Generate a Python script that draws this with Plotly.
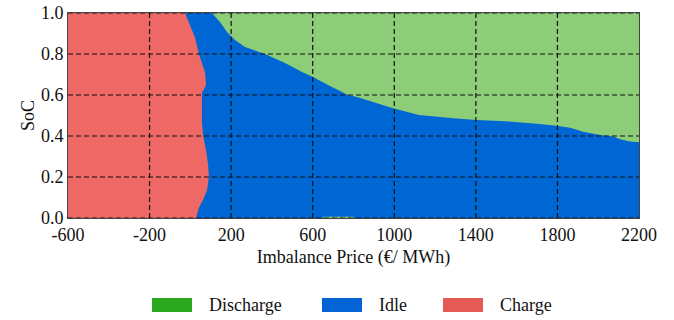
import plotly.graph_objects as go

# ---- data ----
x_range = [-600, 2200]
y_range = [0.0, 1.0]
x_ticks = [-600, -200, 200, 600, 1000, 1400, 1800, 2200]
y_ticks = [0.0, 0.2, 0.4, 0.6, 0.8, 1.0]

# Charge / Idle boundary (price at which charging stops, per SoC)
charge_soc = [1.0, 0.94, 0.88, 0.80, 0.71, 0.65, 0.61, 0.55, 0.47, 0.405,
              0.33, 0.26, 0.20, 0.137, 0.088, 0.05, 0.0]
charge_price = [-26, -2, 23, 42, 72, 77, 57, 57, 57, 62,
                77, 87, 91, 82, 62, 42, 28]

# Idle / Discharge boundary (SoC above which discharging starts, per price)
dis_price = [106, 145, 180, 219, 268, 366, 464, 547, 601, 675, 773, 817, 994,
             1120, 1290, 1404, 1576, 1698, 1796, 1862, 1927, 2009, 2074, 2107,
             2156, 2200]
dis_soc = [1.0, 0.956, 0.907, 0.868, 0.834, 0.80, 0.756, 0.712, 0.688, 0.649,
           0.60, 0.59, 0.535, 0.502, 0.486, 0.478, 0.47, 0.46, 0.45, 0.44,
           0.421, 0.405, 0.397, 0.384, 0.373, 0.37]

# small discharge sliver at SoC ~ 0
sliver_price = [650, 800]
sliver_soc = [0.0, 0.006]

labels = ["Discharge", "Idle", "Charge"]
fill_colors = {"Discharge": "#8dcd78", "Idle": "#0066d4", "Charge": "#ee6966"}
legend_colors = {"Discharge": "#2ca81e", "Idle": "#0464d6", "Charge": "#e65a56"}

FONT = "Liberation Serif, Times New Roman, serif"

fig = go.Figure()

# Idle: whole domain
fig.add_trace(go.Scatter(
    x=[x_range[0], x_range[1], x_range[1], x_range[0], x_range[0]],
    y=[y_range[0], y_range[0], y_range[1], y_range[1], y_range[0]],
    fill="toself", mode="none", fillcolor=fill_colors["Idle"],
    name="Idle", showlegend=False, hoverinfo="skip"))

# Charge region
cx = charge_price + [x_range[0], x_range[0], charge_price[0]]
cy = charge_soc + [y_range[0], y_range[1], charge_soc[0]]
fig.add_trace(go.Scatter(
    x=cx, y=cy, fill="toself", mode="none", fillcolor=fill_colors["Charge"],
    name="Charge", showlegend=False, hoverinfo="skip"))

# Discharge region (+ sliver)
dx = dis_price + [x_range[1], dis_price[0], None,
                  sliver_price[0], sliver_price[1], sliver_price[1], sliver_price[0], sliver_price[0]]
dy = dis_soc + [y_range[1], dis_soc[0], None,
                sliver_soc[0], sliver_soc[0], sliver_soc[1], sliver_soc[1], sliver_soc[0]]
fig.add_trace(go.Scatter(
    x=dx, y=dy, fill="toself", mode="none", fillcolor=fill_colors["Discharge"],
    name="Discharge", showlegend=False, hoverinfo="skip"))

shapes = []
for xv in x_ticks[1:-1]:
    shapes.append(dict(type="line", xref="x", yref="y", x0=xv, x1=xv,
                       y0=y_range[0], y1=y_range[1], layer="above",
                       line=dict(color="#111", width=1.2, dash="5px,3px")))
for yv in y_ticks:
    shapes.append(dict(type="line", xref="x", yref="y", x0=x_range[0], x1=x_range[1],
                       y0=yv, y1=yv, layer="above",
                       line=dict(color="#111", width=1.2, dash="5px,3px")))

# manual legend below the plot (paper coordinates)
W, H = 674, 320
L, R, T, B = 68, 35, 13, 102
pw, ph = W - L - R, H - T - B
def px2paper_x(p): return (p - L) / pw
def px2paper_y(p): return (H - B - p) / ph

annotations = []
leg_x = [152, 322, 443]
for lab, lx in zip(labels, leg_x):
    shapes.append(dict(type="rect", xref="paper", yref="paper",
                       x0=px2paper_x(lx), x1=px2paper_x(lx + 40),
                       y0=px2paper_y(312), y1=px2paper_y(298),
                       fillcolor=legend_colors[lab], line=dict(width=0), layer="above"))
    annotations.append(dict(xref="paper", yref="paper", x=px2paper_x(lx + 55),
                            y=px2paper_y(305), text=lab, showarrow=False,
                            xanchor="left", yanchor="middle",
                            font=dict(family=FONT, size=18, color="#111")))

fig.update_layout(
    width=W, height=H,
    margin=dict(l=L, r=R, t=T, b=B, autoexpand=False),
    paper_bgcolor="white", plot_bgcolor="white",
    showlegend=False,
    shapes=shapes, annotations=annotations,
    font=dict(family=FONT, size=18, color="#111"),
    xaxis=dict(range=x_range, tickvals=x_ticks, ticktext=[str(v) for v in x_ticks],
               showgrid=False, zeroline=False, showline=True, mirror=True,
               linecolor="#444", linewidth=1, ticks="", layer="above traces",
               title=dict(text="Imbalance Price (€/ MWh)", standoff=6,
                          font=dict(family=FONT, size=18)),
               tickfont=dict(family=FONT, size=18)),
    yaxis=dict(range=y_range, tickvals=y_ticks, ticktext=[f"{v:.1f}" for v in y_ticks],
               showgrid=False, zeroline=False, showline=True, mirror=True,
               linecolor="#444", linewidth=1, ticks="", layer="above traces",
               title=dict(text="SoC", standoff=1, font=dict(family=FONT, size=18)),
               tickfont=dict(family=FONT, size=18)),
)

fig.write_html("out.html")
